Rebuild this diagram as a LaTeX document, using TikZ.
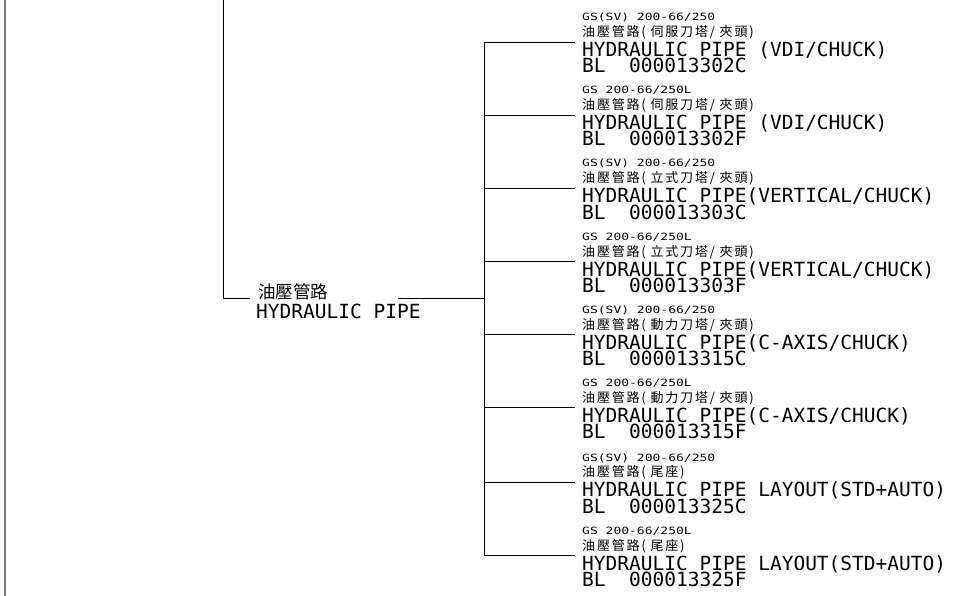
\documentclass[tikz,border=0pt]{standalone}
\usepackage{fontspec}
\newfontfamily\cadfont{DejaVu Sans Mono}
\newfontfamily\cadsmall[FakeStretch=1.3]{DejaVu Sans Mono}
\newfontfamily\cjkfont{Noto Sans CJK TC}
\newfontfamily\cjkwide[LetterSpace=14]{Noto Sans CJK TC}
\begin{document}
\begin{tikzpicture}[x=1pt,y=-1pt,
  wire/.style={draw=black,line width=0.9pt},
  border/.style={draw=black!55,line width=1.6pt},
  gsline/.style={anchor=base west,inner sep=0pt,text height=7pt,text depth=0pt,font=\cadsmall\fontsize{10}{10}\selectfont},
  cjline/.style={anchor=base west,inner sep=0pt,text height=10pt,text depth=0pt,font=\cjkwide\fontsize{13}{13}\selectfont},
  enline/.style={anchor=base west,inner sep=0pt,text height=14pt,text depth=0pt,font=\cadfont\fontsize{19.5}{19.5}\selectfont},
  maincj/.style={anchor=base west,inner sep=0pt,text height=15pt,text depth=0pt,font=\cjkfont\fontsize{17.5}{17.5}\selectfont},
]
\useasboundingbox (0,0) rectangle (957,596);
% left border
\coordinate (bt) at (5,0);
\coordinate (bb) at (5,596);
\draw[border] (bt) -- (bb);
% main trunk
\coordinate (tt) at (223.5,0);
\coordinate (tc) at (223.5,298.5);
\coordinate (te) at (250,298.5);
\draw[wire] (tt) -- (tc) -- (te);
% main label
\node[maincj] (mcj) at (258,298) {油壓管路};
\node[enline] (men) at (256,318) {HYDRAULIC PIPE};
\coordinate (ms) at (398,298.5);
\coordinate (mb) at (484,298.5);
\draw[wire] (ms) -- (mb);
% bus
\coordinate (bus1) at (484,42);
\coordinate (bus8) at (484,555.5);
\draw[wire] (bus1) -- (bus8);
% branches
\foreach \i/\y/\gs/\cj/\en/\bl in {
 1/42/{GS(SV) 200-66/250}/{油壓管路(~伺服刀塔/~夾頭)}/{HYDRAULIC PIPE (VDI/CHUCK)}/{BL~~000013302C},
 2/115/{GS 200-66/250L}/{油壓管路(~伺服刀塔/~夾頭)}/{HYDRAULIC PIPE (VDI/CHUCK)}/{BL~~000013302F},
 3/188/{GS(SV) 200-66/250}/{油壓管路(~立式刀塔/~夾頭)}/{HYDRAULIC PIPE(VERTICAL/CHUCK)}/{BL~~000013303C},
 4/261.5/{GS 200-66/250L}/{油壓管路(~立式刀塔/~夾頭)}/{HYDRAULIC PIPE(VERTICAL/CHUCK)}/{BL~~000013303F},
 5/334.5/{GS(SV) 200-66/250}/{油壓管路(~動力刀塔/~夾頭)}/{HYDRAULIC PIPE(C-AXIS/CHUCK)}/{BL~~000013315C},
 6/407.5/{GS 200-66/250L}/{油壓管路(~動力刀塔/~夾頭)}/{HYDRAULIC PIPE(C-AXIS/CHUCK)}/{BL~~000013315F},
 7/482/{GS(SV) 200-66/250}/{油壓管路(~尾座)}/{HYDRAULIC PIPE LAYOUT(STD+AUTO)}/{BL~~000013325C},
 8/555.5/{GS 200-66/250L}/{油壓管路(~尾座)}/{HYDRAULIC PIPE LAYOUT(STD+AUTO)}/{BL~~000013325F}}{
  \coordinate (j\i) at (484,\y);
  \coordinate (e\i) at (575,\y);
  \draw[wire] (j\i) -- (e\i);
  \node[gsline] (gs\i) at (582,\y-21) {\gs};
  \node[cjline] (cj\i) at (582,\y-5.5) {\cj};
  \node[enline] (en\i) at (582,\y+14.5) {\en};
  \node[enline] (bl\i) at (582,\y+31) {\bl};
}
\end{tikzpicture}
\end{document}
